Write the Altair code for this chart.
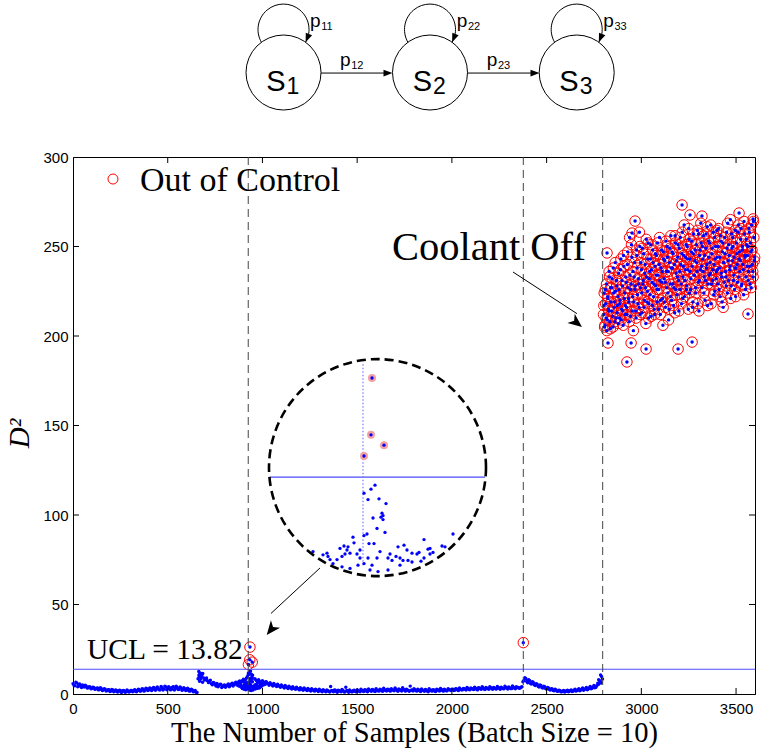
import altair as alt
import pandas as pd

UCL = 13.82
XTICKS = [0, 500, 1000, 1500, 2000, 2500, 3000, 3500]
YTICKS = [0, 50, 100, 150, 200, 250, 300]
VLINES = [925, 2377, 2796]

# ---------------- D^2 statistic ----------------
seg1_start = 0
seg1_y = [5.8, 4.6, 6.2, 5.1, 4.3, 5.0, 3.9, 4.4, 3.5, 3.9, 3.1, 3.6, 2.8, 3.3, 2.5, 2.9, 2.2, 2.6, 1.9, 2.4,
          1.7, 2.2, 1.5, 2.0, 1.4, 1.9, 1.3, 1.8, 1.2, 1.7, 1.4, 2.0, 1.5, 2.1, 1.8, 2.4, 2.0, 2.6, 2.1, 2.9,
          2.3, 3.1, 2.5, 3.4, 2.6, 3.2, 2.4, 3.6, 2.8, 3.9, 2.9, 3.5, 2.7, 4.1, 3.0, 3.6, 2.6, 3.3, 2.4, 3.0,
          2.1, 2.7, 1.8, 2.2, 1.4, 1.0]
seg1b_start = 5
seg1b_y = [4.9, 6.6, 4.0, 5.6, 3.6, 4.6, 4.9, 3.3, 4.1, 2.9, 3.8, 2.6, 3.2, 2.3, 3.5, 2.0, 2.9, 1.7, 2.4, 1.4,
           2.5, 1.3, 2.3, 1.1, 2.1, 0.9, 2.0, 1.0, 2.2, 1.1, 1.9, 1.2, 2.4, 1.3, 2.7, 1.5, 2.9, 1.6, 3.2, 1.9,
           3.4, 2.0, 3.7, 2.1, 3.9, 2.3, 4.2, 2.2, 4.4, 2.4, 4.0, 2.3, 3.8, 2.2, 4.3, 2.5, 3.9, 2.1, 3.5, 1.9,
           3.2, 1.6, 2.7, 1.3, 2.0, 0.8]
seg2_start = 660
seg2_y = [8.5, 11.8, 10.2, 9.0, 8.1, 7.4, 6.9, 5.8, 6.5, 5.2, 5.9, 4.6, 5.4, 4.2, 5.1, 4.4, 5.6, 4.8,
          6.0, 5.3, 6.6, 5.9, 7.3, 6.8, 8.2, 7.9, 9.6]
seg2b_start = 665
seg2b_y = [10.6, 9.3, 11.4, 7.8, 8.9, 6.4, 7.7, 5.1, 6.2, 4.5, 4.0, 5.3, 3.6, 4.8, 3.8, 5.0, 4.1, 5.4,
           4.5, 6.1, 5.0, 6.9, 5.7, 7.6, 6.5, 8.8, 10.8]
jump_x = [664, 666, 668, 671, 675, 679, 684]
jump_y = [12.6, 9.8, 7.1, 10.9, 8.4, 11.3, 6.6]
seg3_start = 960
seg3_y = [8.5, 7.2, 8.0, 6.6, 7.4, 6.1, 6.8, 5.7, 6.3, 5.2, 5.9, 4.8, 5.4, 4.4, 5.0, 4.0, 4.7, 3.7, 4.3, 3.4,
          4.0, 3.1, 3.8, 2.9, 3.5, 2.7, 3.3, 2.5, 3.1, 2.3, 2.9, 2.1, 2.7, 2.0, 2.6, 1.8, 2.4, 1.6, 2.3, 1.5,
          4.2, 1.7, 2.2, 1.4, 2.1, 1.6, 2.5, 1.3, 3.8, 1.5, 2.2, 1.2, 2.0, 1.4, 2.3, 1.5, 2.6, 1.7, 2.4, 1.6,
          2.8, 1.9, 2.5, 1.7, 3.0, 2.0, 2.6, 1.8, 3.2, 2.1, 2.7, 1.9, 2.9, 2.2, 3.3, 2.0, 2.8, 2.3, 3.5, 2.1,
          2.7, 1.9, 4.4, 2.2, 2.9, 2.0, 2.6, 1.8, 2.8, 2.0, 2.5, 1.7, 2.9, 2.1, 2.4, 1.6, 2.7, 1.9, 3.1, 2.0,
          2.6, 1.8, 2.9, 2.3, 2.7, 2.0, 3.0, 2.2, 3.3, 2.4, 3.1, 2.6, 3.6, 2.5, 3.4, 2.8, 3.8, 2.7, 3.5, 2.9,
          4.0, 2.8, 3.6, 3.0, 4.1, 3.1, 3.7, 2.9, 4.2, 3.2, 3.8, 3.0, 4.3, 3.3, 3.9, 3.1, 4.5, 3.4, 4.0, 3.6]
seg3b_start = 965
seg3b_y = [7.9, 6.4, 7.0, 5.9, 6.3, 5.5, 6.0, 4.9, 5.6, 4.5, 5.0, 4.2, 4.6, 3.8, 4.4, 3.4, 4.0, 3.1, 3.6, 2.8,
           3.2, 2.6, 3.0, 2.3, 2.8, 2.1, 2.6, 1.9, 2.4, 1.7, 2.3, 1.6, 2.2, 1.4, 2.0, 1.3, 1.9, 1.2, 1.8, 1.1,
           2.0, 1.3, 2.1, 1.0, 1.8, 1.2, 2.0, 1.1, 1.9, 1.0, 1.7, 1.3, 2.1, 1.2, 1.9, 1.3, 2.0, 1.4, 2.2, 1.3,
           2.1, 1.5, 2.3, 1.4, 2.0, 1.6, 2.4, 1.5, 2.2, 1.7, 2.5, 1.6, 2.3, 1.8, 2.6, 1.5, 2.2, 1.7, 2.5, 1.6,
           2.3, 1.5, 2.1, 1.7, 2.4, 1.6, 2.2, 1.4, 2.1, 1.5, 2.3, 1.3, 2.0, 1.6, 2.2, 1.4, 2.4, 1.7, 2.5, 1.6,
           2.2, 1.8, 2.5, 1.9, 2.7, 2.1, 2.8, 2.0, 2.6, 2.3, 2.9, 2.2, 3.1, 2.4, 3.0, 2.5, 3.2, 2.3, 3.3, 2.6,
           3.4, 2.5, 3.2, 2.7, 3.5, 2.6, 3.3, 2.8, 3.6, 2.7, 3.4, 2.9, 3.7, 2.8, 3.5, 3.0, 3.8, 2.9, 3.6, 3.2]
seg4_start = 2360
seg4_y = [3.4, 4.1, 7.6, 8.6, 6.3, 7.5, 5.6, 6.4, 4.7, 5.5, 3.9, 4.7, 3.3, 4.0, 2.8, 3.3, 2.2, 2.8, 1.8, 2.3,
          1.5, 2.0, 1.3, 1.9, 1.4, 2.1, 1.5, 2.3, 1.7, 2.6, 1.9, 2.9, 2.2, 3.3, 2.5, 3.7, 2.8, 4.2, 3.2, 4.8,
          3.8, 6.0, 7.4, 9.8]
seg4b_start = 2365
seg4b_y = [3.8, 6.8, 9.1, 7.0, 8.0, 5.9, 6.9, 5.1, 5.8, 4.3, 5.0, 3.6, 4.3, 3.0, 3.6, 2.5, 3.0, 2.0, 2.6, 1.6,
           2.1, 1.2, 1.7, 1.1, 1.8, 1.2, 1.9, 1.4, 2.1, 1.6, 2.4, 1.8, 2.7, 2.1, 3.0, 2.4, 3.4, 2.9, 3.9, 3.5,
           4.6, 5.5, 6.8, 8.4]
late_x = [2775, 2785, 2788]
late_y = [8.0, 10.6, 6.2]
# detailed samples around the first fault (also shown magnified)
near_x = [937, 933, 926, 930, 941, 948, 944, 945, 943, 945, 935, 939, 947, 926, 929, 915, 916, 931, 936, 986,
          1015, 966, 960, 1004, 1007, 990, 995, 992, 981, 979, 986, 983, 974, 970, 965, 962, 958, 952, 950, 954,
          962, 950, 940, 932, 926, 922, 919, 912, 909, 907, 902, 904, 899, 895, 890, 889, 885, 892, 904, 912,
          920, 922, 910, 906, 875, 969, 974, 992, 942, 939, 934, 930]
near_y = [12.8, 12.3, 11.8, 11.0, 11.1, 10.5, 9.3, 9.0, 8.8, 8.5, 8.7, 7.4, 6.9, 6.5, 6.7, 6.3, 5.6, 5.5, 5.5, 6.0,
          6.7, 5.3, 5.1, 5.2, 5.1, 4.8, 4.4, 4.2, 4.4, 4.2, 3.7, 3.3, 3.2, 3.4, 3.4, 3.7, 3.9, 4.2, 3.7, 3.4,
          2.8, 2.2, 2.0, 2.2, 3.0, 3.7, 4.2, 4.3, 4.7, 4.2, 4.9, 3.9, 3.5, 3.0, 3.9, 4.3, 4.1, 3.5, 2.6, 2.4,
          2.8, 4.7, 5.1, 5.2, 4.5, 4.7, 4.3, 4.9, 4.5, 3.7, 2.8, 3.7]
ooc1_x = [926, 933, 946, 934]
ooc1_y = [16.45, 19.1, 17.8, 26.2]
ooc2_x = [2377]
ooc2_y = [28.7]
# coolant off: two interleaved runs of every 4th sample
cloud_start = 2800
cloud_y = [212, 224, 206, 218, 229, 209, 221, 214, 233, 204,
           219, 227, 211, 238, 216, 208, 225, 231, 213, 222,
           235, 210, 220, 243, 215, 228, 206, 239, 224, 217,
           230, 212, 247, 221, 208, 234, 226, 251, 214, 236,
           219, 241, 228, 210, 245, 223, 232, 216, 250, 227,
           237, 213, 229, 246, 220, 240, 207, 233, 225, 252,
           218, 236, 243, 211, 230, 248, 222, 215, 239, 228,
           245, 219, 234, 226, 255, 212, 238, 230, 221, 247,
           232, 242, 216, 236, 250, 224, 209, 241, 229, 256,
           220, 238, 246, 227, 213, 252, 235, 223, 244, 231,
           249, 226, 240, 218, 258, 233, 245, 222, 237, 251,
           228, 243, 215, 254, 236, 226, 247, 239, 219, 257,
           234, 248, 224, 241, 259, 230, 214, 245, 237, 252,
           227, 243, 256, 233, 220, 249, 238, 261, 229, 244,
           252, 235, 218, 246, 231, 258, 240, 225, 250, 236,
           244, 229, 260, 238, 222, 253, 233, 247, 216, 241,
           255, 236, 228, 249, 263, 231, 245, 239, 221, 257,
           242, 250, 234, 226, 259, 238, 246, 230, 262, 243,
           236, 254, 228, 248, 240, 223, 257, 244, 233, 251,
           245, 231, 260, 239, 252, 227, 248, 236, 264, 242]
cloud2_start = 2802
cloud2_y = [217, 205, 226, 210, 203, 222, 215, 236, 208, 227,
            214, 232, 205, 224, 219, 241, 210, 228, 217, 207,
            226, 218, 237, 209, 231, 214, 245, 221, 212, 233,
            216, 240, 227, 219, 255, 211, 229, 244, 222, 203,
            233, 226, 214, 248, 238, 218, 229, 258, 212, 241,
            224, 249, 231, 216, 235, 227, 254, 219, 243, 210,
            232, 223, 251, 237, 217, 241, 229, 212, 246, 234,
            226, 252, 215, 240, 231, 220, 248, 236, 206, 243,
            219, 230, 253, 227, 244, 236, 215, 249, 222, 238,
            247, 229, 217, 240, 256, 226, 242, 233, 251, 214,
            236, 255, 229, 246, 221, 239, 262, 231, 244, 226,
            250, 237, 260, 224, 243, 232, 253, 216, 246, 234,
            242, 227, 251, 236, 218, 257, 231, 248, 263, 239,
            250, 236, 224, 245, 231, 257, 240, 217, 253, 234,
            241, 262, 229, 249, 237, 223, 255, 243, 232, 259,
            237, 250, 226, 244, 256, 235, 219, 252, 241, 230,
            246, 233, 258, 224, 242, 251, 237, 265, 228, 249,
            255, 231, 244, 238, 222, 252, 240, 258, 233, 247,
            242, 260, 229, 250, 237, 264, 245, 226, 254, 239,
            250, 236, 258, 229, 247, 262, 240, 233, 255, 244]
cloud_extra_x = [3215, 2967, 2951, 2924, 3025, 3194, 3268, 2946, 2824, 3563, 3516, 3257, 3320, 2819, 3590]
cloud_extra_y = [273.2, 264.2, 257.5, 185.5, 192.7, 192.7, 196.6, 196.1, 196.1, 212.3, 268.7, 267.6, 267.0, 246.4, 265.4]


def seg(start, vals, step=10):
    return [(start + step * i, v) for i, v in enumerate(vals)]


rows = (seg(seg1_start, seg1_y) + seg(seg1b_start, seg1b_y)
        + seg(seg2_start, seg2_y) + seg(seg2b_start, seg2b_y) + list(zip(jump_x, jump_y))
        + seg(seg3_start, seg3_y) + seg(seg3b_start, seg3b_y)
        + seg(seg4_start, seg4_y) + seg(seg4b_start, seg4b_y) + list(zip(late_x, late_y))
        + list(zip(near_x, near_y)) + list(zip(ooc1_x, ooc1_y)) + list(zip(ooc2_x, ooc2_y))
        + seg(cloud_start, cloud_y, 4) + seg(cloud2_start, cloud2_y, 4)
        + list(zip(cloud_extra_x, cloud_extra_y)))
main = pd.DataFrame(rows, columns=["x", "y"])

W, H = 682, 537
xs = alt.Scale(domain=[0, 3600], nice=False, zero=False)
ys = alt.Scale(domain=[0, 300], nice=False, zero=False)
Xp = alt.X("x:Q", scale=xs)
Yp = alt.Y("y:Q", scale=ys)
SERIF = "Liberation Serif"
SANS = "Liberation Sans"

X_axis = alt.X("x:Q", scale=xs, axis=alt.Axis(
    values=XTICKS, format="d", title="The Number of Samples (Batch Size = 10)", titleFont=SERIF,
    titleFontSize=28.5, titleFontWeight="normal", titleColor="black", titleBaseline="alphabetic",
    titleY=47, labelPadding=7))
Y_axis = alt.Y("y:Q", scale=ys, axis=alt.Axis(
    values=YTICKS, format="d", title="D²", titleFont=SERIF, titleFontStyle="italic", titleFontSize=29,
    titleFontWeight="normal", titleColor="black", titleAngle=270, titleX=-45, titleY=276,
    titleAlign="center", titleBaseline="alphabetic", labelPadding=5))

rings = alt.Chart(main).transform_filter(f"datum.y > {UCL}").mark_point(
    shape="circle", size=110, filled=False, color="#ff0000", strokeWidth=1, opacity=1
).encode(x=X_axis, y=Y_axis)
dots = alt.Chart(main).mark_circle(size=12, color="#0000ff", opacity=1).encode(x=Xp, y=Yp)

ucl_line = alt.Chart(pd.DataFrame({"y": [UCL]})).mark_rule(color="#4d4dff", strokeWidth=1.2).encode(y=Yp)
vlines = alt.Chart(pd.DataFrame({"x": VLINES})).mark_rule(
    color="#444444", strokeDash=[8, 5], strokeWidth=1).encode(x=Xp)

xt = pd.DataFrame({"x": XTICKS[1:]})
yt = pd.DataFrame({"y": YTICKS[1:-1]})
tick_b = alt.Chart(xt).mark_rule(color="black").encode(x=Xp, y=alt.value(H), y2=alt.value(H - 6))
tick_t = alt.Chart(xt).mark_rule(color="black").encode(x=Xp, y=alt.value(0), y2=alt.value(6))
tick_l = alt.Chart(yt).mark_rule(color="black").encode(y=Yp, x=alt.value(0), x2=alt.value(6))
tick_r = alt.Chart(yt).mark_rule(color="black").encode(y=Yp, x=alt.value(W), x2=alt.value(W - 6))

# legend
leg_ring = alt.Chart(pd.DataFrame({"x": [211], "y": [287.7]})).mark_point(
    shape="circle", size=100, filled=False, color="#ff0000", strokeWidth=1, opacity=1).encode(x=Xp, y=Yp)


def text_layer(xv, yv, tv, size, font=SERIF, align="left", style="normal"):
    return alt.Chart(pd.DataFrame({"x": xv, "y": yv, "t": tv})).mark_text(
        font=font, fontSize=size, align=align, baseline="alphabetic", color="black", fontStyle=style
    ).encode(x=Xp, y=Yp, text="t:N")


leg_text = text_layer([353.7], [281.0], ["Out of Control"], 34)
ucl_text = text_layer([73.9], [19.6], ["UCL = 13.82"], 29.5)
cool_text = text_layer([1683.9], [242.5], ["Coolant Off"], 40.5)

# arrows
arrows = pd.DataFrame({"x": [2322.6, 1303.8, 1309.1, 2082.4], "y": [235.75, 70.4, 346.9, 346.9],
                       "x2": [2660.0, 1045.0, 1670.0, 2446.0], "y2": [212.5, 45.0, 346.9, 346.9]})
arrow_lines = alt.Chart(arrows).mark_rule(color="black", strokeWidth=1).encode(
    x=Xp, y=Yp, x2="x2:Q", y2="y2:Q")
BIG_HEAD = "M 0 0 L -1 -0.42 L -0.72 0 L -1 0.42 Z"
SMALL_HEAD = "M 0 0 L -1 -0.38 L -1 0.38 Z"
big_heads = alt.Chart(pd.DataFrame({"x": [2686.8, 1022.5], "y": [205.0, 33.0], "a": [38.6, 128.9]})).mark_point(
    shape=BIG_HEAD, size=784, filled=True, color="black", opacity=1, strokeWidth=0.5
).encode(x=Xp, y=Yp, angle=alt.Angle("a:Q", scale=None))

# state diagram
states = pd.DataFrame({"x": [1111.2, 1884.5, 2658.8], "y": [347.2, 347.2, 347.2]})
state_circ = alt.Chart(states).mark_point(shape="circle", size=5625, filled=False, color="black",
                                          strokeWidth=1, opacity=1).encode(x=Xp, y=Yp)
LOOP = ("M -0.866 0.5 C -1.109 0.08 -1.015 -0.454 -0.643 -0.766 "
        "C -0.272 -1.078 0.272 -1.078 0.643 -0.766 C 1.015 -0.454 1.109 0.08 0.866 0.5")
loops = alt.Chart(pd.DataFrame({"x": [1111.2, 1884.5, 2658.8], "y": [371.2, 371.2, 371.2]})).mark_point(
    shape=LOOP, size=2601, filled=False, color="black", strokeWidth=1, opacity=1).encode(x=Xp, y=Yp)
small_heads = alt.Chart(pd.DataFrame({
    "x": [1227.8, 2001.1, 2775.5, 1686.5, 2462.5],
    "y": [364.1, 364.1, 364.1, 346.9, 346.9],
    "a": [112, 112, 112, 0, 0]})).mark_point(
    shape=SMALL_HEAD, size=324, filled=True, color="black", opacity=1, strokeWidth=0.5
).encode(x=Xp, y=Yp, angle=alt.Angle("a:Q", scale=None))
s_text = text_layer([1121.8, 1895.1, 2669.4], [336.9] * 3, ["S", "S", "S"], 29, font=SANS, align="right")
s_sub = text_layer([1127.0, 1900.4, 2674.7], [335.2] * 3, ["1", "2", "3"], 23, font=SANS)
p_text = text_layer([1251.0, 2025.4, 2799.2, 1409.4, 2183.8], [372.6, 372.6, 372.6, 350.8, 350.8],
                    ["p"] * 5, 19, font=SANS)
p_sub = text_layer([1310.0, 2084.4, 2858.2, 1468.4, 2242.8], [370.9, 370.9, 370.9, 349.4, 349.4],
                   ["11", "22", "33", "12", "23"], 11, font=SANS)

main_layer = alt.layer(rings, dots, ucl_line, vlines, tick_b, tick_t, tick_l, tick_r,
                       leg_ring, leg_text, ucl_text, cool_text, arrow_lines, big_heads,
                       state_circ, loops, small_heads, s_text, s_sub, p_text, p_sub)

# ---------------- magnified view of the first fault ----------------
ix = alt.Scale(domain=[805, 1055], range=[170, 420], nice=False, zero=False)
iy = alt.Scale(domain=[0, 30], range=[430.6, 190.6], nice=False, zero=False)
IX = alt.X("x:Q", scale=ix, axis=None)
IY = alt.Y("y:Q", scale=iy, axis=None)
inset = pd.DataFrame({"x": near_x + ooc1_x, "y": near_y + ooc1_y})
in_ucl = alt.Chart(pd.DataFrame({"x": [832], "x2": [1047], "y": [UCL]})).mark_rule(
    color="#4d4dff", strokeWidth=1.2).encode(x=IX, x2="x2:Q", y=IY)
in_vline = alt.Chart(pd.DataFrame({"x": [925], "y": [2.8], "y2": [28.2]})).mark_rule(
    color="#7777ff", strokeDash=[1.5, 2], strokeWidth=1.2).encode(x=IX, y=IY, y2="y2:Q")
in_halo = alt.Chart(inset).transform_filter(f"datum.y > {UCL}").mark_circle(
    size=64, color="#f4a0a0", opacity=1).encode(x=IX, y=IY)
in_dots = alt.Chart(inset).mark_circle(size=11, color="#0000ff", opacity=1).encode(x=IX, y=IY)
in_circle = alt.Chart(pd.DataFrame({"x": [939.5], "y": [15.0]})).mark_point(
    shape="circle", size=47089, filled=False, color="black", strokeWidth=2.6, strokeDash=[9, 5], opacity=1
).encode(x=IX, y=IY)
inset_layer = alt.layer(in_ucl, in_vline, in_halo, in_dots, in_circle)

chart = alt.layer(main_layer, inset_layer).resolve_scale(
    x="independent", y="independent"
).properties(
    width=W, height=H,
    autosize=alt.AutoSizeParams(type="none"),
    padding={"left": 73, "top": 157, "right": 7, "bottom": 56},
    background="white",
).configure_axis(
    grid=False, ticks=False, tickSize=0, domainColor="black", domainWidth=1,
    labelFont=SANS, labelFontSize=15, labelColor="black", labelFlush=False,
).configure_view(stroke="black", strokeWidth=1)

chart.save("out.html", embed_options={"renderer": "svg", "actions": False})
